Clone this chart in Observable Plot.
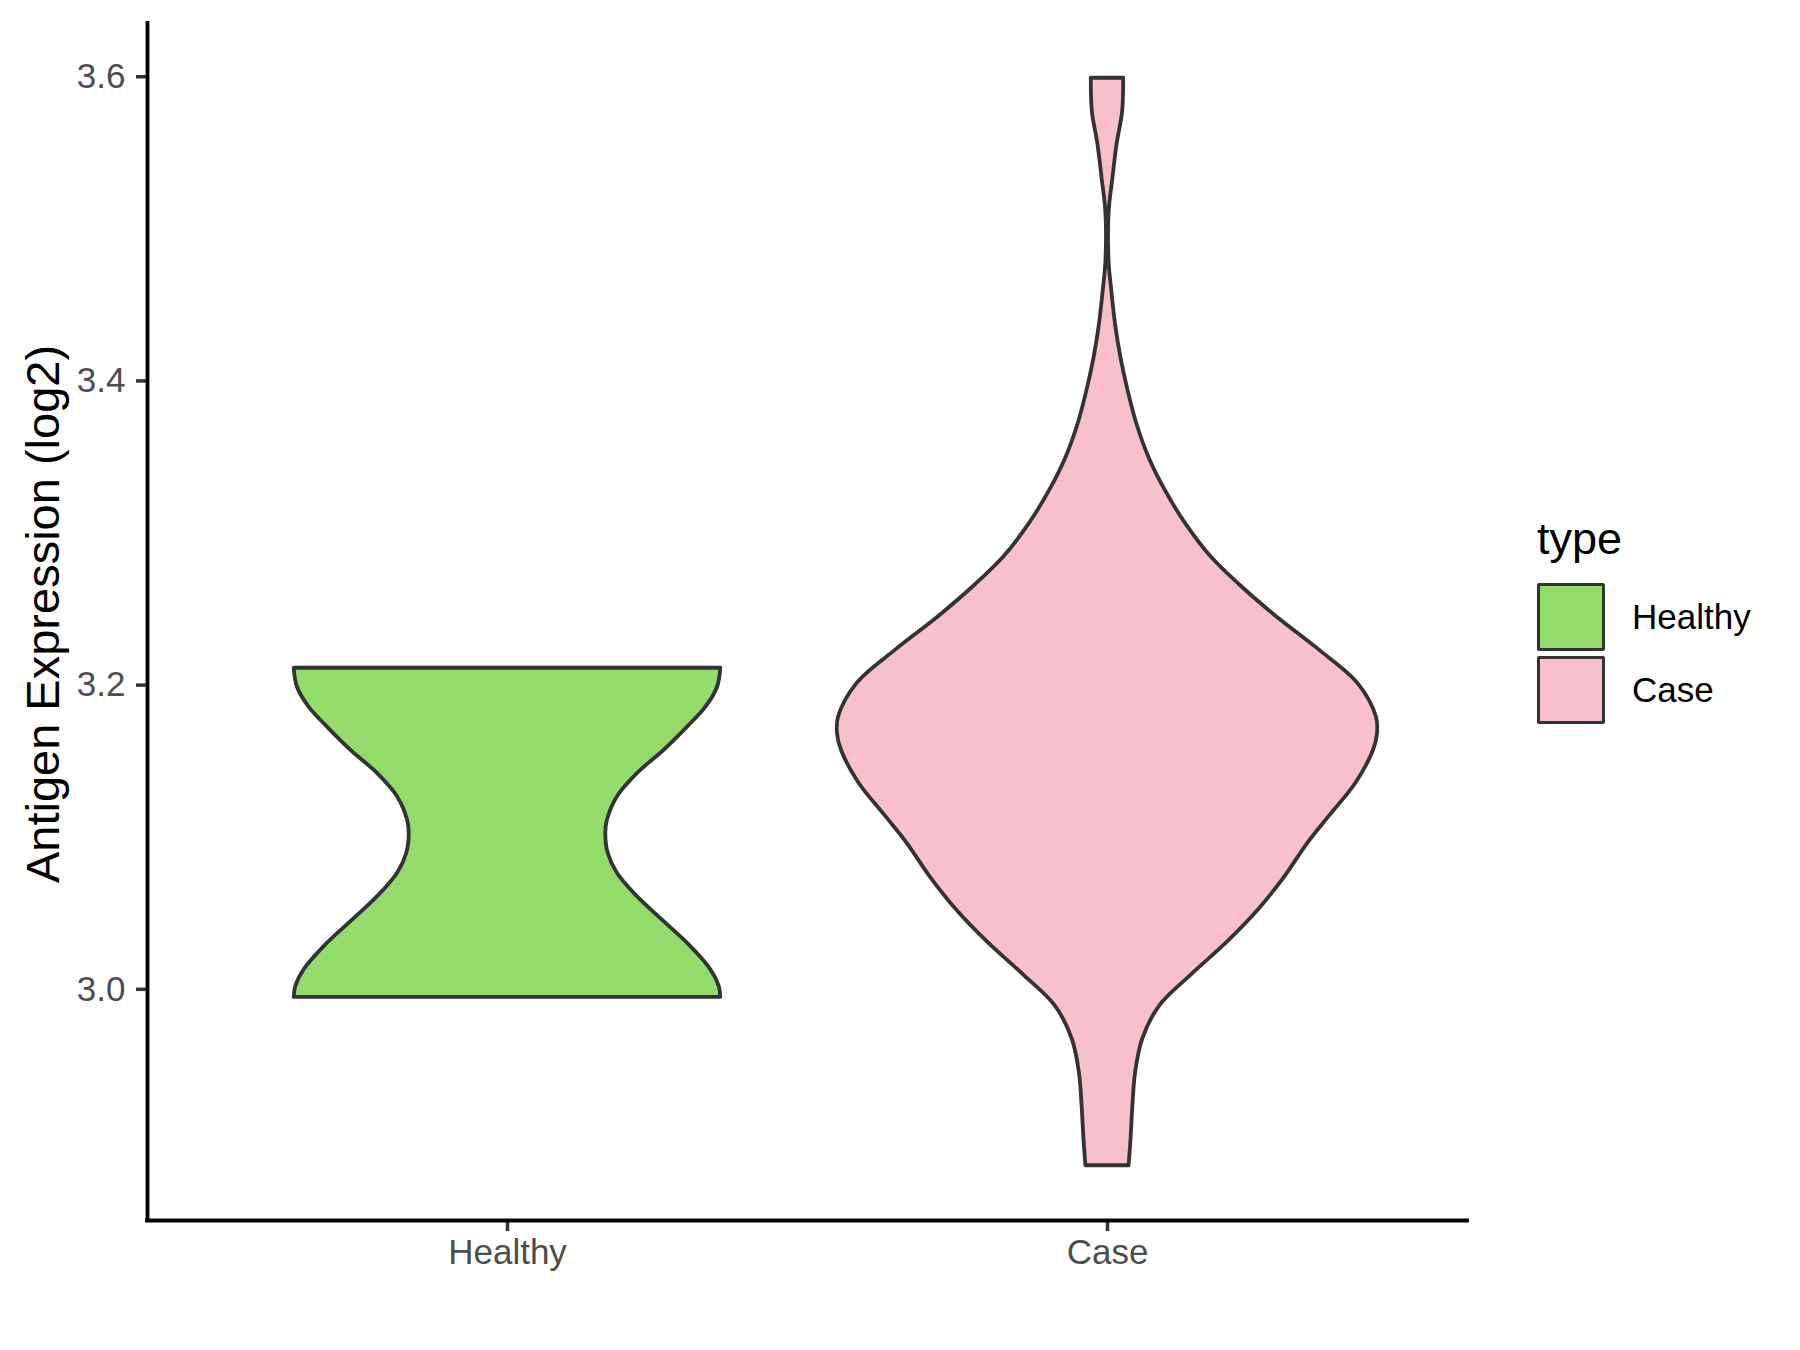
<!DOCTYPE html>
<html>
<head>
<meta charset="utf-8">
<script src="https://cdn.jsdelivr.net/npm/d3@7"></script>
<script src="https://cdn.jsdelivr.net/npm/@observablehq/plot@0.6"></script>
<style>
  html, body { margin: 0; padding: 0; background: #ffffff; }
  #wrap { position: relative; width: 1800px; height: 1350px; font-family: "Liberation Sans", Arial, sans-serif; }
  #legend { position: absolute; left: 1537px; top: 513px; }
  #legend .ttl { font-size: 45px; line-height: 52px; height: 52px; color: #000; margin-bottom: 16px; }
  #legend .row { display: flex; align-items: center; height: 72.7px; }
  #legend .key { width: 68px; height: 68px; box-sizing: border-box; border: 3.6px solid #333333; border-radius: 2px; }
  #legend .lab { font-size: 35px; color: #000; margin-left: 27px; }
</style>
</head>
<body>
<div id="wrap"></div>
<script>
// ---- data ----
const groups = ["Healthy", "Case"];
const groupPositions = [1, 2];
const groupFills = ["#93DB6A", "#F7C0CB"];
const legendTitle = "type";
const yTitle = "Antigen Expression (log2)";
const yTicks = [3.0, 3.2, 3.4, 3.6];

// violin outlines: expression value and relative density (1 = widest violin)
const healthyValue = [2.9947, 3.0019, 3.0129, 3.0281, 3.0445, 3.0609, 3.0763, 3.0894, 3.1025, 3.1112, 3.1265, 3.1418, 3.1571, 3.1724, 3.1855, 3.1986, 3.2111];
const healthyDensity = [0.790, 0.784, 0.753, 0.679, 0.580, 0.481, 0.407, 0.373, 0.364, 0.370, 0.407, 0.481, 0.580, 0.667, 0.735, 0.778, 0.790];

const caseValue = [2.884, 2.901, 2.923, 2.945, 2.967, 2.989, 3.009, 3.031, 3.052, 3.074, 3.096, 3.114, 3.136, 3.157, 3.168, 3.179, 3.201, 3.223, 3.245, 3.266, 3.284, 3.306, 3.328, 3.349, 3.371, 3.393, 3.415, 3.437, 3.459, 3.478, 3.511, 3.533, 3.555, 3.577, 3.599];
const caseDensity = [0.080, 0.087, 0.094, 0.104, 0.130, 0.193, 0.308, 0.444, 0.558, 0.657, 0.742, 0.823, 0.922, 0.985, 1.000, 0.996, 0.928, 0.785, 0.626, 0.489, 0.385, 0.290, 0.214, 0.155, 0.110, 0.077, 0.050, 0.030, 0.016, 0.006, 0.006, 0.020, 0.035, 0.056, 0.060];

const yDomain = [2.848, 3.635];
const xDomain = [0.4, 2.6];
const violinHalfWidth = 0.45;

// ---- build table ----
const series = [
  {type: groups[0], pos: groupPositions[0], values: healthyValue, dens: healthyDensity},
  {type: groups[1], pos: groupPositions[1], values: caseValue, dens: caseDensity}
];
const rows = [];
for (const s of series) {
  s.values.forEach((v, i) => {
    const w = s.dens[i] * violinHalfWidth;
    rows.push({type: s.type, value: v, x1: s.pos - w, x2: s.pos + w});
  });
}

const font = "Liberation Sans, Arial, sans-serif";
const plot = Plot.plot({
  width: 1800,
  height: 1350,
  marginLeft: 147,
  marginRight: 333,
  marginTop: 23,
  marginBottom: 130,
  style: {fontFamily: font, background: "#ffffff", overflow: "visible"},
  x: {type: "linear", domain: xDomain},
  y: {domain: yDomain},
  color: {domain: groups, range: groupFills},
  marks: [
    Plot.areaX(rows, {
      y: "value", x1: "x1", x2: "x2", z: "type", fill: "type",
      stroke: "#333333", strokeWidth: 3.8, strokeLinejoin: "round",
      curve: "catmull-rom"
    }),
    Plot.axisX({
      ticks: groupPositions, tickFormat: d => groups[groupPositions.indexOf(d)],
      tickSize: 11, tickPadding: 8, fontSize: 35,
      stroke: "#333333", fill: "#4D4D4D", strokeWidth: 3.5, label: null
    }),
    Plot.axisY({
      ticks: yTicks, tickFormat: d => d.toFixed(1),
      tickSize: 11, tickPadding: 11, fontSize: 35,
      stroke: "#333333", fill: "#4D4D4D", strokeWidth: 3.5, label: null
    }),
    Plot.ruleX([xDomain[0]], {stroke: "#000000", strokeWidth: 3.8, strokeLinecap: "square"}),
    Plot.ruleY([yDomain[0]], {stroke: "#000000", strokeWidth: 3.8, strokeLinecap: "square"}),
    Plot.text([yTitle], {
      text: d => d, frameAnchor: "left", textAnchor: "middle", rotate: -90, dx: -104, dy: -8,
      fontSize: 47, fill: "#000000"
    })
  ]
});

const wrap = document.getElementById("wrap");
wrap.appendChild(plot);

// ---- legend (HTML, colours taken from the plot's color scale) ----
const color = plot.scale("color");
const legend = document.createElement("div");
legend.id = "legend";
const ttl = document.createElement("div");
ttl.className = "ttl";
ttl.textContent = legendTitle;
legend.appendChild(ttl);
color.domain.forEach((g, i) => {
  const row = document.createElement("div");
  row.className = "row";
  const key = document.createElement("div");
  key.className = "key";
  key.style.background = color.range[i];
  const lab = document.createElement("div");
  lab.className = "lab";
  lab.textContent = g;
  row.appendChild(key);
  row.appendChild(lab);
  legend.appendChild(row);
});
wrap.appendChild(legend);
</script>
</body>
</html>
